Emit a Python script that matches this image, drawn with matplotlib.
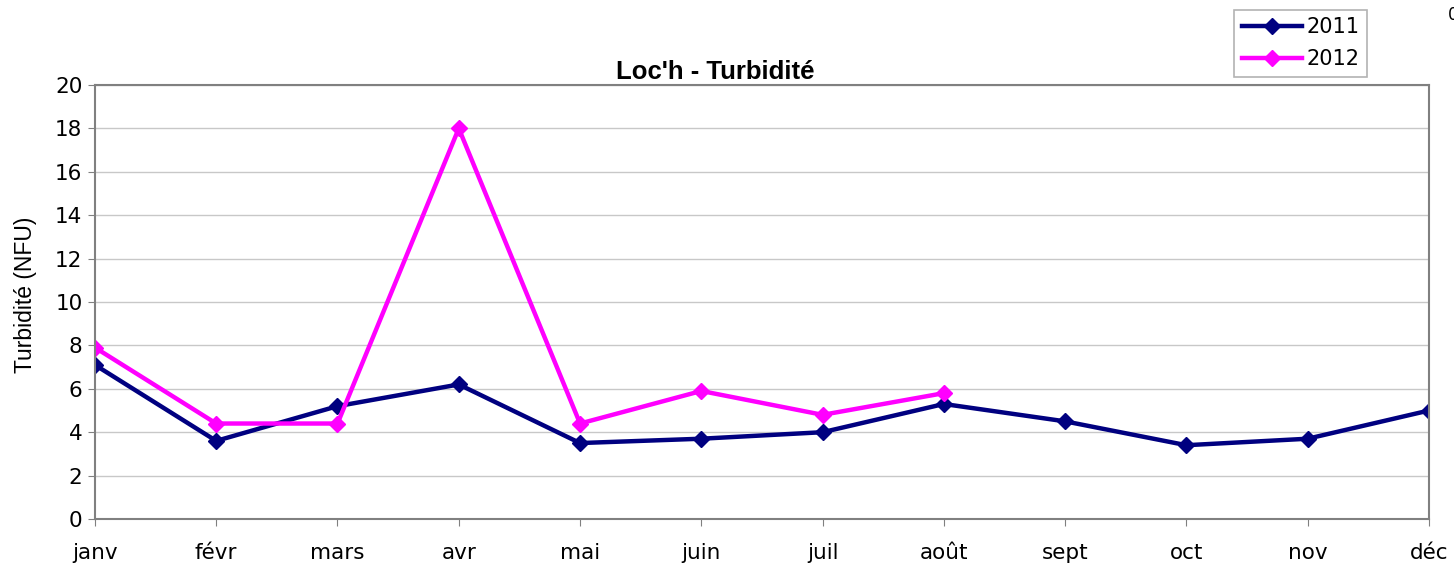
import numpy as np
import matplotlib.pyplot as plt

months = ["janv", "févr", "mars", "avr", "mai", "juin", "juil", "août",
          "sept", "oct", "nov", "déc"]
vals_2011 = [7.1, 3.6, 5.2, 6.2, 3.5, 3.7, 4.0, 5.3, 4.5, 3.4, 3.7, 5.0]
vals_2012 = [7.9, 4.4, 4.4, 18.0, 4.4, 5.9, 4.8, 5.8]
yticks = [0, 2, 4, 6, 8, 10, 12, 14, 16, 18, 20]

fig = plt.figure(figsize=(14.54, 5.65), dpi=100)
ax = fig.add_axes([0.0653, 0.0814, 0.9175, 0.7682])

x = np.arange(len(months))
l1, = ax.plot(x, vals_2011, c='#000080', lw=3.2, marker='D', ms=8, label='2011')
l2, = ax.plot(x[:len(vals_2012)], vals_2012, c='#ff00ff', lw=3.2, marker='D', ms=8,
              label='2012')

ax.set_xlim(0, 11)
ax.set_ylim(0, 20)
ax.set_yticks(yticks)
ax.set_xticks(x)
ax.set_xticklabels(months)
ax.tick_params(axis='both', labelsize=15.5, length=5, color='#808080', direction='out')
ax.tick_params(axis='x', pad=12)
ax.tick_params(axis='y', pad=4)
ax.yaxis.grid(True, color='#c8c8c8', lw=1)
ax.set_axisbelow(True)
for s in ax.spines.values():
    s.set_color('#808080')
    s.set_linewidth(1.5)

# y label and title placed in figure coords to match the reference
fig.text(0.0175, 0.478, "Turbidité (NFU)", fontsize=16.5, family='Liberation Sans',
         rotation=90, ha='center', va='center')
fig.text(0.4917, 0.872, "Loc'h - Turbidité", fontsize=18.5, fontweight='bold',
         family='Liberation Sans', ha='center', va='center')

leg = fig.legend(handles=[l1, l2], loc='upper left', bbox_to_anchor=(0.849, 0.983),
                 fontsize=15, frameon=True, fancybox=False, handlelength=2.9,
                 handletextpad=0.2, borderpad=0.35, labelspacing=0.6,
                 borderaxespad=0)
leg.get_frame().set_edgecolor('#a0a0a0')
leg.get_frame().set_linewidth(1.2)

fig.text(0.996, 0.99, "0", fontsize=12, va='top', ha='left')

fig.savefig("out.png", dpi=100)
